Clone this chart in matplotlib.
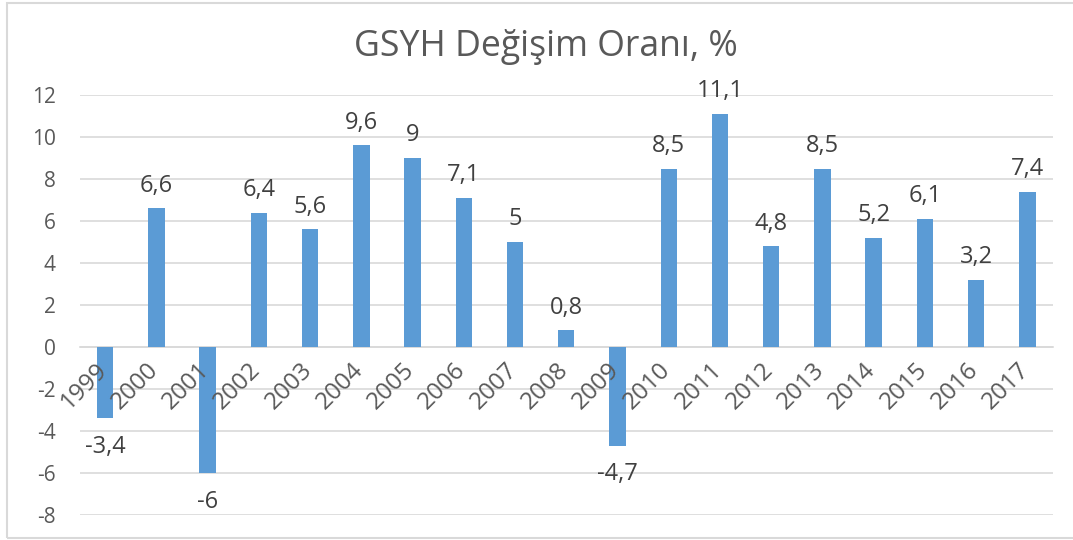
import matplotlib
matplotlib.use("Agg")
import matplotlib.pyplot as plt
from matplotlib.patches import Rectangle
from matplotlib.transforms import ScaledTranslation

years = ["1999", "2000", "2001", "2002", "2003", "2004", "2005", "2006", "2007", "2008",
         "2009", "2010", "2011", "2012", "2013", "2014", "2015", "2016", "2017"]
values = [-3.4, 6.6, -6, 6.4, 5.6, 9.6, 9, 7.1, 5, 0.8,
          -4.7, 8.5, 11.1, 4.8, 8.5, 5.2, 6.1, 3.2, 7.4]
yticks = [-8, -6, -4, -2, 0, 2, 4, 6, 8, 10, 12]
title = "GSYH Değişim Oranı, %"

plt.rcParams['font.family'] = ['Open Sans', 'DejaVu Sans']

W, H = 1073, 540
fig = plt.figure(figsize=(W / 100, H / 100), dpi=100)
L, R = 79.5, 1053
ax = fig.add_axes([L / W, (H - 515) / H, (R - L) / W, (515 - 95) / H])

x = list(range(len(years)))
ax.bar(x, values, width=0.32, color='#5B9BD5', zorder=3)
ax.set_xlim(-0.5, len(years) - 0.5)
ax.set_ylim(-8, 12)
ax.set_yticks(yticks)
ax.set_yticklabels([str(t) for t in yticks], fontsize=15, color='#595959')
ax.yaxis.grid(True, color='#D9D9D9', linewidth=1.2, zorder=0)
ax.tick_params(axis='y', length=0, pad=17)
for s in ['top', 'right', 'left']:
    ax.spines[s].set_visible(False)
ax.spines['bottom'].set_position(('data', 0))
ax.spines['bottom'].set_color('#D9D9D9')
ax.spines['bottom'].set_linewidth(1.2)
ax.spines['bottom'].set_zorder(1)
ax.set_xticks(x)
ax.set_xticklabels(years, fontsize=17.5, color='#595959', rotation=45,
                   ha='right', va='top', rotation_mode='anchor')
ax.tick_params(axis='x', length=0, pad=8)
ax.xaxis.set_zorder(5)
shift = ScaledTranslation(-10 / 100, 0, fig.dpi_scale_trans)
for lbl in ax.get_xticklabels():
    lbl.set_transform(lbl.get_transform() + shift)

for xi, v in zip(x, values):
    txt = f"{v:g}".replace('.', ',')
    if v >= 0:
        ax.annotate(txt, (xi, v), xytext=(0, 12), textcoords='offset points',
                    ha='center', va='baseline', fontsize=17, color='#404040')
    else:
        ax.annotate(txt, (xi, v), xytext=(0, -25), textcoords='offset points',
                    ha='center', va='baseline', fontsize=17, color='#404040')

fig.text(546 / W, (H - 56) / H, title, ha='center', va='baseline', fontsize=25.7, color='#595959')

fig.patches.append(Rectangle((7 / W, 2 / H), 1.1, (537 - 2) / H, transform=fig.transFigure,
                             fill=False, edgecolor='#D9D9D9', linewidth=1.5, clip_on=False))

fig.savefig('out.png', dpi=100)
